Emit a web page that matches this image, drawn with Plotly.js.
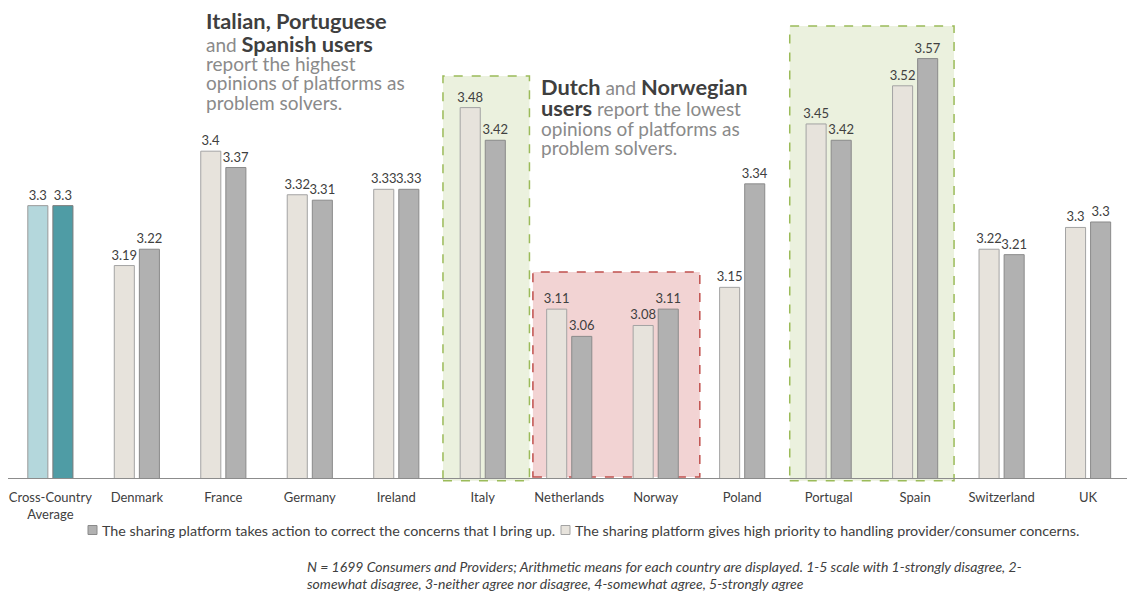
<!DOCTYPE html>
<html>
<head>
<meta charset="utf-8">
<script src="https://cdn.plot.ly/plotly-3.0.1.min.js"></script>
<style>html,body{margin:0;padding:0;background:#fff;}#chart{width:1127px;height:591px;}</style>
</head>
<body>
<div id="chart"></div>
<script>
const categories = ["Cross-Country<br>Average","Denmark","France","Germany","Ireland","Italy","Netherlands","Norway","Poland","Portugal","Spain","Switzerland","UK"];
// bar heights
const priorityValues = [3.30,3.19,3.40,3.32,3.33,3.48,3.11,3.08,3.15,3.45,3.52,3.22,3.26];
const actionValues   = [3.30,3.22,3.37,3.31,3.33,3.42,3.06,3.11,3.34,3.42,3.57,3.21,3.27];
// data labels as printed in the picture
const priorityLabels = ["3.3","3.19","3.4","3.32","3.33","3.48","3.11","3.08","3.15","3.45","3.52","3.22","3.3"];
const actionLabels   = ["3.3","3.22","3.37","3.31","3.33","3.42","3.06","3.11","3.34","3.42","3.57","3.21","3.3"];
const priorityName = "The sharing platform gives high priority to handling provider/consumer concerns.";
const actionName = "The sharing platform takes action to correct the concerns that I bring up.";

const FONT = "Lato, 'Open Sans', sans-serif";
const TXT = "#404040";
const GREY = "#8a8a8a";
const C = {
  priority: "#e7e3dc", priorityLine: "#a3a3a3",
  action: "#b1b1b1", actionLine: "#8a8a8a",
  avgPriority: "#b4d7dc", avgAction: "#4f9ca5"
};

function barTrace(cats, vals, labels, name, color, lineColor, group) {
  return {
    type: "bar", x: cats, y: vals, name: name, offsetgroup: group, showlegend: false,
    marker: {color: color, line: {color: lineColor, width: 1}},
    text: labels, textposition: "outside",
    textfont: {family: FONT, size: 13, color: TXT},
    constraintext: "none", cliponaxis: false, hoverinfo: "x+y"
  };
}

const data = [
  barTrace(categories.slice(1), priorityValues.slice(1), priorityLabels.slice(1), priorityName, C.priority, C.priorityLine, "a"),
  barTrace(categories.slice(1), actionValues.slice(1), actionLabels.slice(1), actionName, C.action, C.actionLine, "b"),
  barTrace(categories.slice(0,1), priorityValues.slice(0,1), priorityLabels.slice(0,1), priorityName, C.avgPriority, "#9a9a9a", "a"),
  barTrace(categories.slice(0,1), actionValues.slice(0,1), actionLabels.slice(0,1), actionName, C.avgAction, "#7a7a7a", "b")
];

const px = x => (x - 8) / 1119;
const py = y => (478 - y) / 463;

function line(text, xPx, yPx, size) {
  return {
    xref: "paper", yref: "paper", x: px(xPx), y: py(yPx),
    xanchor: "left", yanchor: "middle", showarrow: false, align: "left",
    text: text, font: {family: FONT, size: size, color: GREY}
  };
}
const B = s => `<b><span style="color:#3f3f3f;font-size:21.8px">${s}</span></b>`;

const annotations = [
  line(B("Italian, Portuguese"), 204, 21, 19),
  line("and " + B("Spanish users"), 204, 43, 19),
  line("report the highest", 204, 63, 19),
  line("opinions of platforms as", 204, 83, 19),
  line("problem solvers.", 204, 102, 19),
  line(B("Dutch") + " and " + B("Norwegian"), 539, 86, 19),
  line(B("users") + " report the lowest", 539, 107.5, 19),
  line("opinions of platforms as", 539, 128, 19),
  line("problem solvers.", 539, 147, 19),
  // legend texts
  {xref: "paper", yref: "paper", x: px(100), y: py(530), xanchor: "left", yanchor: "middle",
   showarrow: false, text: actionName, font: {family: FONT, size: 14.3, color: TXT}},
  {xref: "paper", yref: "paper", x: px(573), y: py(530), xanchor: "left", yanchor: "middle",
   showarrow: false, text: priorityName, font: {family: FONT, size: 14.3, color: TXT}},
  // footnote
  {xref: "paper", yref: "paper", x: px(305), y: py(566), xanchor: "left", yanchor: "middle",
   showarrow: false, align: "left",
   text: "<i>N = 1699 Consumers and Providers; Arithmetic means for each country are displayed. 1-5 scale with 1-strongly disagree, 2-</i>",
   font: {family: FONT, size: 14, color: TXT}},
  {xref: "paper", yref: "paper", x: px(305), y: py(583), xanchor: "left", yanchor: "middle",
   showarrow: false, align: "left",
   text: "<i>somewhat disagree, 3-neither agree nor disagree, 4-somewhat agree, 5-strongly agree</i>",
   font: {family: FONT, size: 14, color: TXT}}
];

const shapes = [
  {type: "rect", layer: "below", xref: "x", yref: "paper", x0: 4.54, x1: 5.54, y0: -0.006, y1: py(76),
   fillcolor: "#ebf1de", line: {color: "#9bbb59", width: 1.5, dash: "dash"}},
  {type: "rect", layer: "below", xref: "x", yref: "paper", x0: 8.55, x1: 10.45, y0: -0.006, y1: py(26),
   fillcolor: "#ebf1de", line: {color: "#9bbb59", width: 1.5, dash: "dash"}},
  {type: "rect", layer: "below", xref: "x", yref: "paper", x0: 5.58, x1: 7.51, y0: 0.002, y1: py(272),
   fillcolor: "#f2d3d3", line: {color: "#c0504d", width: 1.5, dash: "dash"}},
  // legend swatches
  {type: "rect", xref: "paper", yref: "paper", x0: px(88), x1: px(97), y0: py(534.5), y1: py(525.5),
   fillcolor: C.action, line: {color: C.actionLine, width: 1}},
  {type: "rect", xref: "paper", yref: "paper", x0: px(561), x1: px(570), y0: py(534.5), y1: py(525.5),
   fillcolor: C.priority, line: {color: C.priorityLine, width: 1}}
];

const layout = {
  width: 1127, height: 591,
  margin: {l: 8, r: 0, t: 15, b: 113},
  paper_bgcolor: "#ffffff", plot_bgcolor: "rgba(0,0,0,0)",
  barmode: "group", bargap: 0.42, bargroupgap: 0.2,
  font: {family: FONT, color: TXT},
  showlegend: false,
  xaxis: {type: "category", categoryorder: "array", categoryarray: categories,
          range: [-0.49, 12.45], showgrid: false, zeroline: false,
          showline: true, linecolor: "#8c8c8c", linewidth: 1, ticks: "",
          ticklabelstandoff: 7,
          tickfont: {family: FONT, size: 13, color: TXT}, fixedrange: true},
  yaxis: {range: [2.8, 3.65], visible: false, showgrid: false, zeroline: false, fixedrange: true},
  shapes: shapes,
  annotations: annotations
};

Plotly.newPlot("chart", data, layout, {displayModeBar: false, staticPlot: true});
</script>
</body>
</html>
